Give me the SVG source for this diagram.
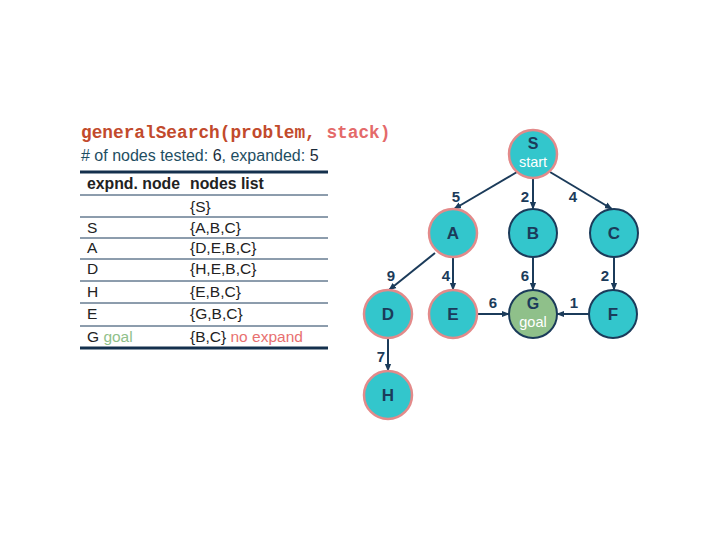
<svg xmlns="http://www.w3.org/2000/svg" width="720" height="540" viewBox="0 0 720 540">
<defs>
<marker id="arr" viewBox="0 0 10 10" refX="9" refY="5" markerWidth="4" markerHeight="4" orient="auto" markerUnits="strokeWidth">
<path d="M0,1 L10,5 L0,9 Z" fill="#1b3b5a"/>
</marker>
</defs>
<style>
.t{font-family:"Liberation Sans",Arial,sans-serif;font-size:15.5px;fill:#222}
.hd{font-family:"Liberation Sans",Arial,sans-serif;font-size:15.8px;font-weight:bold;fill:#222}
.ttl{font-family:"Liberation Mono","Courier New",monospace;font-size:17.8px;font-weight:bold}
.sub{font-family:"Liberation Sans",Arial,sans-serif;font-size:16px;fill:#1e4e62}
.thin{stroke:#1b3b5a;stroke-width:1}
.thick{stroke:#14304d;stroke-width:3}
.nv circle{fill:#33c6cc;stroke:#1b3b5a;stroke-width:2}
.pk circle{fill:#33c6cc;stroke:#e38a8a;stroke-width:2.5}
.lbl{font-family:"Liberation Sans",Arial,sans-serif;font-size:17px;font-weight:bold;fill:#1b3b5a;text-anchor:middle}
.lbl2{font-family:"Liberation Sans",Arial,sans-serif;font-size:16px;font-weight:bold;fill:#1b3b5a;text-anchor:middle}
.sm{font-family:"Liberation Sans",Arial,sans-serif;font-size:14.5px;fill:#ffffff;text-anchor:middle}
.el{font-family:"Liberation Sans",Arial,sans-serif;font-size:15px;font-weight:bold;fill:#1b3b5a;text-anchor:middle}
.edge{stroke:#1b3b5a;stroke-width:2;fill:none;marker-end:url(#arr)}
</style>
<rect width="720" height="540" fill="#ffffff"/>
<g id="title">
<text class="ttl" x="81" y="138"><tspan fill="#c24a2c">generalSearch(problem, </tspan><tspan fill="#e46a6a">stack)</tspan></text>
<text class="sub" x="81" y="161"># of nodes tested: <tspan fill="#1b2b3a">6</tspan>, expanded: <tspan fill="#1b2b3a">5</tspan></text>
</g>
<g id="table">
<line class="thick" x1="80" y1="172" x2="328" y2="172"/>
<text class="hd" x="87" y="189">expnd. node</text>
<text class="hd" x="190" y="189">nodes list</text>
<line class="thin" x1="80" y1="195" x2="328" y2="195"/>
<text class="t" x="190" y="212">{S}</text>
<line class="thin" x1="80" y1="217" x2="328" y2="217"/>
<text class="t" x="87" y="233">S</text>
<text class="t" x="190" y="233">{A,B,C}</text>
<line class="thin" x1="80" y1="238" x2="328" y2="238"/>
<text class="t" x="87" y="253">A</text>
<text class="t" x="190" y="253">{D,E,B,C}</text>
<line class="thin" x1="80" y1="259" x2="328" y2="259"/>
<text class="t" x="87" y="274">D</text>
<text class="t" x="190" y="274">{H,E,B,C}</text>
<line class="thin" x1="80" y1="281" x2="328" y2="281"/>
<text class="t" x="87" y="297">H</text>
<text class="t" x="190" y="297">{E,B,C}</text>
<line class="thin" x1="80" y1="303" x2="328" y2="303"/>
<text class="t" x="87" y="319">E</text>
<text class="t" x="190" y="319">{G,B,C}</text>
<line class="thin" x1="80" y1="326" x2="328" y2="326"/>
<text class="t" x="87" y="342">G <tspan fill="#8fc08a">goal</tspan></text>
<text class="t" x="190" y="342">{B,C} <tspan fill="#e87070">no expand</tspan></text>
<line class="thick" x1="80" y1="348" x2="328" y2="348"/>
</g>
<g id="connectors">
<line class="edge" x1="517" y1="172" x2="454" y2="209"/>
<line class="edge" x1="533" y1="178" x2="533" y2="209"/>
<line class="edge" x1="550" y1="172" x2="612" y2="209"/>
<line class="edge" x1="435" y1="253" x2="389" y2="290"/>
<line class="edge" x1="453" y1="257" x2="453" y2="290"/>
<line class="edge" x1="533" y1="257" x2="533" y2="290"/>
<line class="edge" x1="614" y1="257" x2="614" y2="290"/>
<line class="edge" x1="477" y1="314" x2="509" y2="314"/>
<line class="edge" x1="589" y1="314" x2="557" y2="314"/>
<line class="edge" x1="388" y1="338" x2="388" y2="371"/>
<text class="el" x="456" y="202">5</text>
<text class="el" x="525" y="202">2</text>
<text class="el" x="573" y="202">4</text>
<text class="el" x="391" y="281">9</text>
<text class="el" x="446" y="281">4</text>
<text class="el" x="525" y="281">6</text>
<text class="el" x="605" y="281">2</text>
<text class="el" x="493" y="308">6</text>
<text class="el" x="574" y="308">1</text>
<text class="el" x="381" y="362">7</text>
</g>
<g id="node-S" class="pk"><circle cx="533" cy="154" r="24"/><text class="lbl2" x="533" y="149">S</text><text class="sm" x="533" y="167">start</text></g>
<g id="node-A" class="pk"><circle cx="453" cy="233" r="24"/><text class="lbl" x="453" y="239">A</text></g>
<g id="node-B" class="nv"><circle cx="533" cy="233" r="24"/><text class="lbl" x="533" y="239">B</text></g>
<g id="node-C" class="nv"><circle cx="614" cy="233" r="24"/><text class="lbl" x="614" y="239">C</text></g>
<g id="node-D" class="pk"><circle cx="388" cy="314" r="24"/><text class="lbl" x="388" y="320">D</text></g>
<g id="node-E" class="pk"><circle cx="453" cy="314" r="24"/><text class="lbl" x="453" y="320">E</text></g>
<g id="node-G"><circle cx="533" cy="314" r="24" fill="#8fc08a" stroke="#1b3b5a" stroke-width="2"/><text class="lbl2" x="533" y="309">G</text><text class="sm" x="533" y="327">goal</text></g>
<g id="node-F" class="nv"><circle cx="613" cy="314" r="24"/><text class="lbl" x="613" y="320">F</text></g>
<g id="node-H" class="pk"><circle cx="388" cy="395" r="24"/><text class="lbl" x="388" y="401">H</text></g>
</svg>
